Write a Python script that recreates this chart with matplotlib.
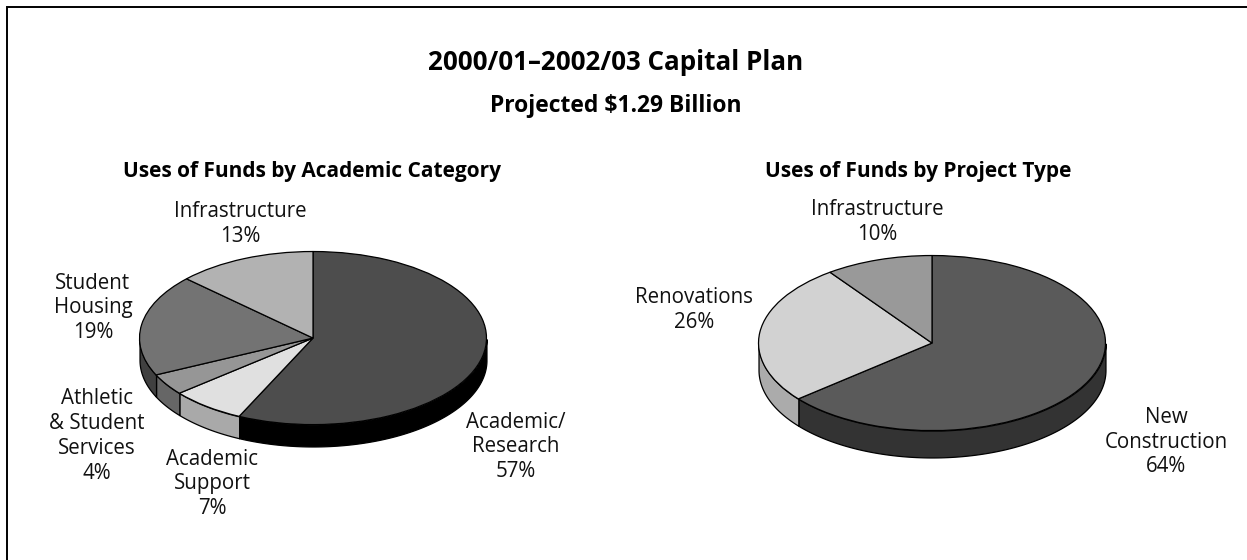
import numpy as np
import matplotlib
matplotlib.use("Agg")
import matplotlib.pyplot as plt
from matplotlib.patches import Rectangle

W, H = 1247, 560
FONT = "Open Sans"

left_labels = ["Academic/\nResearch\n57%", "Academic\nSupport\n7%",
               "Athletic\n& Student\nServices\n4%", "Student\nHousing\n19%",
               "Infrastructure\n13%"]
left_values = [57, 7, 4, 19, 13]
left_tops = ["#4d4d4d", "#e0e0e0", "#969696", "#737373", "#b2b2b2"]
left_walls = ["#000000", "#a9a9a9", "#666666", "#404040", "#808080"]
left_label_xy = [(516, 447), (212, 484), (97, 436), (93, 308), (240, 224)]

right_labels = ["New\nConstruction\n64%", "Renovations\n26%", "Infrastructure\n10%"]
right_values = [64, 26, 10]
right_tops = ["#5a5a5a", "#d2d2d2", "#999999"]
right_walls = ["#333333", "#ababab", "#707070"]
right_label_xy = [(1166, 442), (694, 310), (877, 222)]


def draw_pie(fig, values, tops, walls, cx, cy, rx, ry, depth):
    """Draw one tilted pie, with its outer wall, centred on pixel cx, cy."""
    extra = depth / ry
    ax = fig.add_axes([(cx - rx) / W, 1 - (cy + ry + depth) / H,
                       2 * rx / W, (2 * ry + depth) / H])
    ax.patch.set_alpha(0)
    edges = np.cumsum([0] + values) / sum(values)
    for i in range(len(values)):
        # clockwise from twelve o'clock, same as the pie below
        t0 = 90 - 360 * edges[i]
        t1 = 90 - 360 * edges[i + 1]
        t = np.radians(np.linspace(t0, t1, 200))
        t = t[np.sin(t) <= 0]
        if len(t) == 0:
            continue
        ax.fill_between(np.cos(t), np.sin(t), np.sin(t) - extra,
                        facecolor=walls[i], edgecolor="black", linewidth=0.9)
    ax.pie(values, colors=tops, startangle=90, counterclock=False, radius=1,
           wedgeprops={"edgecolor": "black", "linewidth": 0.9})
    ax.set_aspect("auto")
    ax.set_xlim(-1.003, 1.003)
    ax.set_ylim(-1 - extra - 0.006, 1.006)
    ax.axis("off")
    return ax


def put_labels(fig, labels, positions):
    for text, (x, y) in zip(labels, positions):
        fig.text(x / W, 1 - y / H, text, family=FONT, fontsize=14.8,
                 ha="center", va="center", linespacing=1.23, color="#111111")


def main():
    fig = plt.figure(figsize=(W / 100, H / 100), dpi=100, facecolor="white")
    fig.add_artist(Rectangle((7 / W, -0.1), (W - 7 + 50) / W, 1.1 - 7 / H,
                             transform=fig.transFigure, facecolor="none",
                             edgecolor="black", linewidth=1.4))

    draw_pie(fig, left_values, left_tops, left_walls, 313, 338, 174, 87, 22)
    draw_pie(fig, right_values, right_tops, right_walls, 932, 343, 174, 88, 27)

    fig.text(616 / W, 1 - 62 / H, "2000/01\u20132002/03 Capital Plan", family=FONT,
             fontsize=18.7, fontweight="bold", ha="center", va="center")
    fig.text(616 / W, 1 - 106 / H, "Projected $1.29 Billion", family=FONT,
             fontsize=16.5, fontweight="bold", ha="center", va="center")
    fig.text(312 / W, 1 - 171 / H, "Uses of Funds by Academic Category", family=FONT,
             fontsize=15, fontweight="bold", ha="center", va="center")
    fig.text(918 / W, 1 - 171 / H, "Uses of Funds by Project Type", family=FONT,
             fontsize=15, fontweight="bold", ha="center", va="center")

    put_labels(fig, left_labels, left_label_xy)
    put_labels(fig, right_labels, right_label_xy)

    fig.savefig("out.png", dpi=100)


if __name__ == "__main__":
    main()
